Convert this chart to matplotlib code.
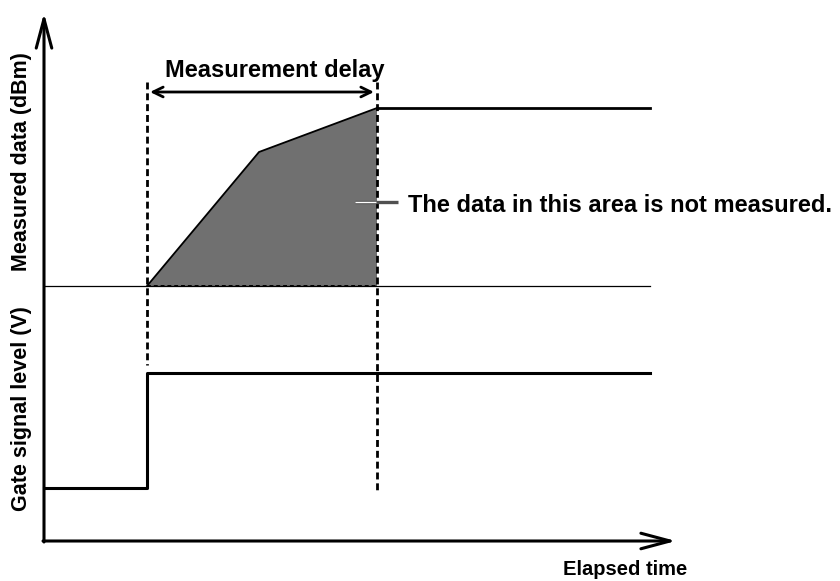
import matplotlib
matplotlib.use("Agg")
import matplotlib.pyplot as plt

plt.rcParams['font.family'] = ['Liberation Sans', 'DejaVu Sans']

# schematic time / level values (arbitrary units, origin at the axes corner)
meas_time = [103, 215, 333, 606]
meas_level = [255, 389, 433, 433]
gate_time = [0, 103, 103, 606]
gate_level = [53, 53, 168, 168]
baseline = 255
delay_start = 103
delay_end = 333

x_label = "Elapsed time"
y_label_top = "Measured data (dBm)"
y_label_bottom = "Gate signal level (V)"
delay_label = "Measurement delay"
area_label = "The data in this area is not measured."


def main():
    fig = plt.figure(figsize=(8.4, 5.81), dpi=100)
    ax = fig.add_axes([0, 0, 1, 1])
    ax.set_xlim(-44, 796)
    ax.set_ylim(-40, 541)
    ax.axis('off')

    # axes with open arrow heads
    axis_arrow = dict(arrowstyle="->,head_length=0.75,head_width=0.2", lw=2.2,
                      color='black', mutation_scale=28, shrinkA=0, shrinkB=0)
    ax.annotate("", xy=(0, 528), xytext=(0, -1), arrowprops=axis_arrow)
    ax.annotate("", xy=(632, 0), xytext=(-1, 0), arrowprops=axis_arrow)

    # thin divider between the two signals
    ax.plot([0, meas_time[-1]], [baseline, baseline], color='black', lw=0.9)

    # area that is not measured
    fill_t = meas_time[:3] + [delay_end]
    fill_y = meas_level[:3] + [baseline]
    ax.fill(fill_t, fill_y, color='#707070', lw=0)
    ax.plot([delay_start, delay_end], [baseline, baseline], color='black',
            lw=1.4, ls=(0, (2, 1.5)))

    # measured data and gate signal
    ax.plot(meas_time[:3], meas_level[:3], color='black', lw=1.3)
    ax.plot(meas_time[2:], meas_level[2:], color='black', lw=2)
    ax.plot(gate_time, gate_level, color='black', lw=2.2)

    # delay markers
    ax.plot([delay_start, delay_start], [459, 176], color='black', lw=2,
            ls=(0, (2.5, 1.4)))
    ax.plot([delay_end, delay_end], [459, 51], color='black', lw=2,
            ls=(0, (2.5, 1.4)))
    ax.annotate("", xy=(delay_start + 3, 449), xytext=(delay_end - 3, 449),
                arrowprops=dict(arrowstyle="<->,head_length=0.45,head_width=0.22",
                                lw=2, color='black', mutation_scale=16,
                                shrinkA=0, shrinkB=0))

    # leader line for the grey area
    ax.plot([311, 354], [339, 339], color='#505050', lw=2.4,
            solid_capstyle='butt')
    ax.plot([311, delay_end - 1], [339, 339], color='white', lw=1,
            solid_capstyle='butt')

    ax.text(231, 464, delay_label, ha='center', va='baseline',
            fontsize=17, fontweight='bold')
    ax.text(364, 329, area_label, ha='left', va='baseline',
            fontsize=17, fontweight='bold')
    ax.text(643, -34, x_label, ha='right', va='baseline',
            fontsize=14.5, fontweight='bold')
    ax.text(-22, 379, y_label_top, ha='center', va='center', rotation=90,
            fontsize=15.5, fontweight='bold')
    ax.text(-22, 132, y_label_bottom, ha='center', va='center', rotation=90,
            fontsize=15.5, fontweight='bold')

    fig.savefig("out.png", dpi=100)


if __name__ == '__main__':
    main()
